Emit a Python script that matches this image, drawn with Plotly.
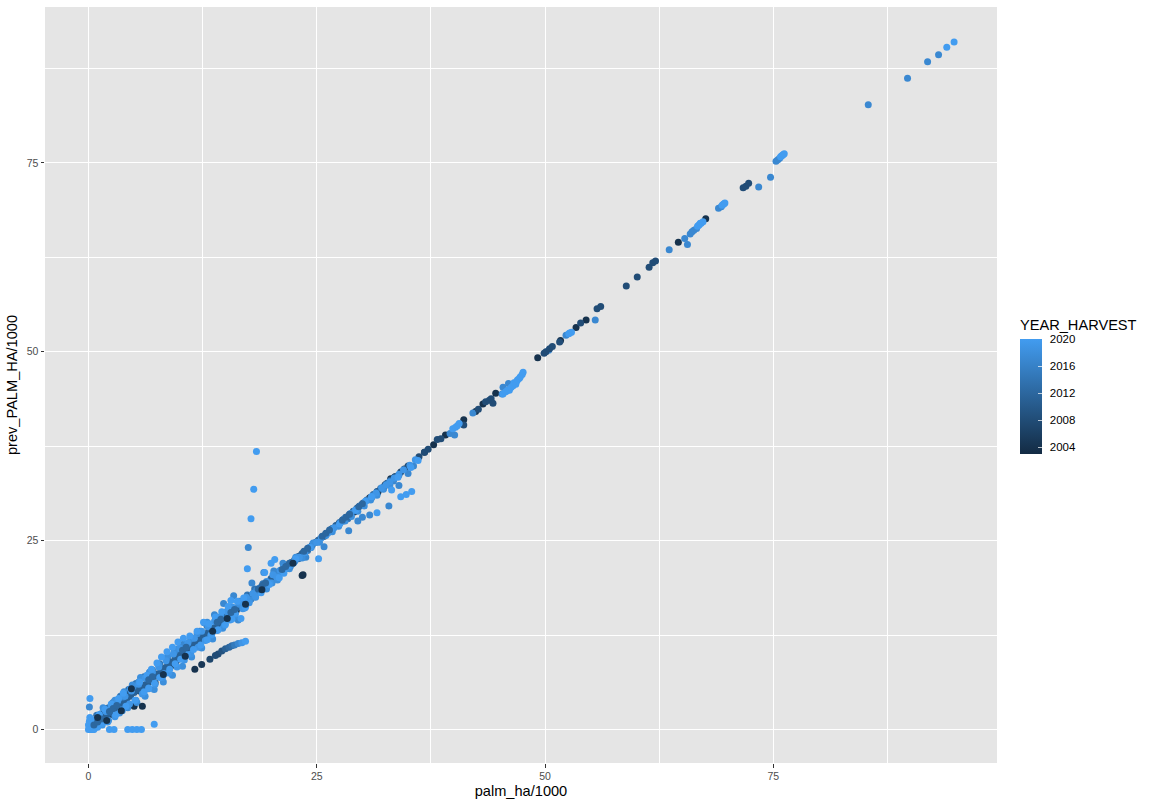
import plotly.graph_objects as go

# ---- values, grouped by harvest year and draw layer ----
core_2011_x = [0.3,0.6,1.0,1.3,1.7,2.0,2.4,2.8,3.1,3.5,3.9,4.2,4.6,5.0,5.4,5.7,6.1,6.5,6.9,7.2,7.6,8.0,8.4,8.7,9.1,9.5,9.9,10.2,10.6,11.0,11.4,11.7,12.1,12.5,12.9,13.2,13.6,14.0,14.4,14.7,15.1,15.5,15.9,16.2,16.6,17.0,17.4,17.7,18.1,18.5,18.9,19.2,19.6,20.0,20.4,20.7,21.1,21.5,21.9,22.2,22.6,23.0,23.4,23.7,24.1,24.5,24.9,25.2,25.6,26.0,26.4,26.7,27.1,27.5,27.9,28.2,28.6,29.0,29.4,29.7,30.1,30.5,30.9,31.2,31.6,32.0,32.4,32.7,33.1,33.5]
core_2011_y = [0.2,0.5,0.8,1.2,1.5,1.9,2.2,2.7,2.9,3.4,3.7,4.1,4.4,4.9,5.2,5.6,5.9,6.4,6.7,7.1,7.4,7.9,8.2,8.6,8.9,9.4,9.7,10.1,10.4,10.9,11.2,11.6,11.9,12.4,12.7,13.1,13.4,13.9,14.2,14.6,14.9,15.4,15.7,16.1,16.5,16.9,17.3,17.6,18.0,18.4,18.8,19.1,19.5,19.9,20.3,20.6,21.0,21.4,21.8,22.1,22.5,22.9,23.3,23.6,24.0,24.4,24.8,25.1,25.5,25.9,26.2,26.6,27.0,27.4,27.8,28.1,28.5,28.9,29.3,29.6,30.0,30.4,30.7,31.1,31.5,31.9,32.2,32.6,33.0,33.4]

wide_2014_x = [0.2,0.5,0.9,1.4,1.8,2.2,2.7,3.0,3.5,3.9,4.4,4.8,5.2,5.7,6.1,6.5,7.0,7.4,7.8,8.3,8.7,9.1,9.6,10.0,10.4,10.9,11.3,11.7,12.2,12.6,13.0,13.5,13.9,14.3,14.8,15.2,15.6,16.1,16.5,16.9,17.4,17.8,18.2,18.7,19.1,19.5,20.0,20.4,20.8,21.3,21.7,22.1,22.6,23.0,23.5,24.0,26.6,27.3,27.9,28.4,29.4,30.1,31.0,31.7,32.3,32.9,33.4,34.0]
wide_2014_y = [0.9,1.2,1.9,2.1,2.8,2.9,3.6,3.2,4.4,4.2,5.3,4.9,6.1,5.6,7.0,6.3,7.9,7.2,8.7,8.0,9.6,8.9,10.5,9.7,11.3,10.6,12.1,11.4,13.0,12.2,13.7,13.1,14.6,14.0,15.5,14.8,16.2,15.7,17.0,16.4,17.8,17.3,18.6,18.2,19.3,19.0,20.0,20.0,20.9,20.8,21.7,21.6,22.4,22.6,23.2,23.7,26.5,27.1,27.6,27.9,29.0,29.7,30.7,31.4,31.9,32.6,33.1,33.7]

dark_2004_x = [0.7,1.4,1.8,2.6,3.1,3.9,4.4,5.0,5.6,6.3,6.8,7.3,7.9,8.4,9.0,9.6,10.1,10.8,11.5,12.2,12.9,13.6,14.3,15.0,15.7,16.2,16.8,17.4,18.0,18.7,19.4,20.1,20.9,21.6,22.5,23.2,23.4,23.5,24.3,25.1,25.8,26.7,27.5,28.3,29.1,30.0,30.8,31.7,32.5,33.1,34.6,36.8,37.8,39.1,41.1,42.4,43.2,44.6,49.2,51.7,53.4,54.5,64.6,67.6]
dark_2004_y = [0.5,1.2,2.3,2.0,2.6,3.2,4.7,3.1,5.1,5.6,6.4,6.2,7.4,7.7,8.4,9.0,9.4,10.2,11.0,11.6,12.4,13.1,13.8,14.7,15.1,15.8,16.2,17.0,17.6,18.3,19.0,19.8,20.6,21.4,22.2,23.0,20.4,20.5,24.1,24.9,25.6,26.5,27.3,28.1,28.8,29.8,30.7,31.5,32.4,33.2,34.5,36.7,37.7,39.0,41.0,42.1,43.1,44.5,49.2,51.5,53.2,54.2,64.5,67.6]

mid_2008_x = [33.6,34.2,35.0,36.2,36.8,37.2,38.2,38.6,41.1,42.7,43.5,43.9,44.1,44.3,49.9,50.1,50.5,50.8,51.6,53.9,55.7,56.1,58.9,60.1,61.4,61.8,62.1,71.7,72.0,72.3]
mid_2008_y = [33.5,34.1,34.9,36.1,36.7,37.1,38.4,38.5,40.3,42.4,43.4,43.6,43.8,43.2,49.8,50.0,50.4,50.7,51.3,53.8,55.7,56.0,58.7,59.9,61.2,61.8,62.0,71.7,71.9,72.3]

spread_2017_x = [0.1,1.2,2.4,3.2,3.8,4.9,5.5,6.7,7.7,8.6,9.4,10.5,11.2,12.7,13.8,14.8,15.9,16.4,17.5,17.9,18.4,19.2,20.3,20.7,21.3,22.6,23.8,25.8,28.5,29.5,30.0,30.8,32.9,33.4,34.0,35.0,35.6,39.6,40.1,42.1,45.3,45.4,46.0,50.4,52.3,55.5,63.6,65.3,65.6,65.9,66.1,66.3,66.6,69.0,69.3,73.4,74.7,75.3,75.5,75.7,85.4,89.7,91.9,93.1]
spread_2017_y = [3.0,1.5,2.7,3.9,4.3,5.7,6.3,7.6,8.6,9.5,10.3,11.2,12.0,14.1,15.2,16.7,17.7,14.5,24.1,19.4,18.4,20.8,21.0,20.6,22.0,22.3,22.8,24.2,26.3,27.6,28.1,28.4,29.6,32.9,32.3,33.9,34.9,39.2,39.0,41.9,44.4,45.3,45.8,50.2,52.2,54.2,63.5,65.0,64.2,65.6,65.9,66.1,66.3,69.0,69.2,71.8,73.1,75.2,75.4,75.6,82.7,86.2,88.4,89.3]

edge_2018_x = [1.6,2.2,2.9,3.4,3.9,4.3,4.8,5.3,5.7,6.2,6.7,7.2,7.7,8.2,8.7,9.2,9.8,10.3,10.8,11.3,11.9,12.4,13.0,13.6,14.1,14.7,15.3,15.9,16.5,17.1,17.7,18.3,18.9,19.5,20.1,20.7,21.4,22.0,22.7,23.4,24.6,25.3,26.0,26.7,27.4,28.1,28.8,29.5,30.2,30.9,31.6,32.3,33.0]
edge_2018_y = [2.9,1.2,3.9,2.2,5.0,2.9,5.9,3.6,6.9,4.4,7.6,5.3,8.5,6.3,9.8,7.2,10.7,8.4,11.3,9.6,12.7,10.8,14.2,12.0,14.8,13.4,15.3,14.9,16.6,16.1,17.2,17.5,18.5,18.6,19.4,19.8,21.6,21.3,22.8,22.7,24.7,24.8,25.7,26.2,26.9,27.6,28.2,28.9,29.6,30.4,31.0,31.8,32.3]

fill_2020_x = [0.4,0.8,1.1,1.5,1.9,2.1,2.5,2.9,3.2,3.7,4.0,4.5,4.7,5.2,5.5,5.9,6.2,6.6,7.0,7.3,7.7,8.1,8.5,8.8,9.3,9.7,10.0,10.5,10.9,11.2,11.6,12.0,12.4,12.8,13.1,13.4,13.8,14.1,14.5,14.9,15.2,15.5,15.8,16.1,16.5,16.9,17.3,17.6,18.0,18.3,18.7,19.1,19.5,19.9,20.2,20.6,21.0,21.5,22.0,22.5,23.1,23.7,24.4,25.0,25.5,26.2,26.9,27.6,28.1,28.7,29.2,29.8,30.4,31.1,31.5,32.1,32.6,33.0,33.5,34.0,34.5,35.2,35.8]
fill_2020_y = [1.2,0.3,1.8,0.6,2.4,1.0,3.0,1.7,3.8,2.5,4.4,3.4,5.1,3.9,6.0,4.7,6.8,5.4,7.6,6.0,8.3,6.9,9.1,7.5,10.0,8.3,10.8,9.2,11.5,10.0,12.1,10.9,13.0,11.8,13.6,12.5,14.3,13.1,15.0,13.8,15.7,14.5,16.2,15.3,16.9,16.0,17.5,16.8,18.0,17.6,18.7,18.6,19.6,19.4,20.5,20.2,21.1,21.2,21.7,22.1,22.8,23.4,24.1,24.8,25.4,26.0,26.7,27.4,28.0,28.6,29.0,29.6,30.3,30.9,31.3,32.0,32.4,32.8,33.3,33.8,34.4,35.0,35.7]

light_2020_x = [0.0,0.0,0.1,0.1,0.15,0.16,0.2,0.3,0.4,0.5,0.6,0.8,1.0,1.2,1.5,1.8,2.0,2.3,2.5,2.8,3.0,3.3,3.6,3.8,4.1,4.3,4.6,4.8,5.1,5.3,5.6,5.8,6.1,6.4,6.6,6.9,7.2,7.2,7.5,7.8,8.0,8.3,8.6,8.9,9.2,9.5,9.8,10.1,10.4,10.8,11.1,11.5,11.9,12.3,12.6,13.0,13.2,13.5,13.9,14.2,14.6,15.0,15.3,15.6,15.7,16.0,16.3,16.7,17.0,17.2,17.4,17.8,18.1,18.4,18.9,19.3,19.8,20.0,20.4,20.9,21.4,21.9,22.3,22.7,24.2,25.2,26.5,27.5,29.3,30.3,31.0,31.6,33.2,33.9,34.2,34.8,35.4,35.3,36.1,39.9,40.2,40.4,40.6,45.4,45.7,45.9,46.1,46.3,46.5,46.6,46.8,46.9,47.0,47.2,47.3,47.5,47.6,52.6,52.7,52.9,66.7,66.8,66.9,67.0,67.1,67.3,69.4,69.5,69.6,69.7,75.8,75.9,76.0,76.1,76.2,94.0,94.8]
light_2020_y = [0.0,0.6,1.1,0.3,1.6,4.1,0.0,0.0,0.8,0.0,0.0,1.3,0.3,2.0,0.8,2.7,1.2,0.0,3.4,0.0,2.0,4.1,2.6,4.8,3.1,0.0,5.4,0.0,3.9,0.0,6.3,0.0,5.0,7.2,5.5,8.0,0.7,6.2,8.8,6.9,9.6,7.4,10.3,8.0,10.9,8.7,11.6,9.3,12.1,9.9,12.4,10.6,13.0,11.2,14.2,11.9,14.0,12.6,14.9,13.2,15.6,13.9,16.3,17.1,14.6,15.4,17.0,14.7,17.4,16.2,21.3,27.9,31.8,36.8,18.1,20.8,19.2,22.0,22.5,20.1,20.7,21.7,21.9,22.6,24.1,22.6,26.4,27.2,29.1,30.2,30.8,28.7,31.7,33.4,30.8,31.1,31.5,34.7,35.6,39.8,40.0,40.2,40.5,44.4,44.7,44.9,44.9,45.3,45.5,45.9,45.7,46.1,46.3,46.5,46.7,47.0,47.3,52.4,52.5,52.6,66.6,66.7,66.8,67.0,67.0,67.2,69.4,69.5,69.6,69.7,75.8,75.9,76.0,76.1,76.2,90.3,91.0]

streak_2012_x = [0.6,1.0,1.4,2.3,2.7,3.1,6.6,7.0,10.3,10.7,14.1,14.5,15.6,16.0,18.6,19.0,19.4,21.2,21.6,22.0,23.6,24.0,25.6,26.0,26.4,27.8,28.2,28.6,29.6,30.0]
streak_2012_y = [0.6,1.0,1.4,2.4,2.8,3.2,6.6,7.0,10.5,10.9,14.2,14.6,15.5,15.9,18.6,19.0,19.4,21.2,21.6,22.0,23.6,24.0,25.6,26.0,26.4,27.7,28.1,28.5,29.5,29.9]

accent_2004_x = [1.0,2.0,3.6,4.7,5.9,8.2,10.6,13.6,15.2,17.2,19.0,22.4]
accent_2004_y = [1.6,1.2,2.5,5.4,3.1,7.3,9.7,13.0,14.7,16.6,18.5,22.0]

tail_x = [11.65,12.4,13.3,13.9,14.2,14.6,15.0,15.4,15.7,16.0,16.4,16.8,17.2]
tail_y = [8.0,8.6,9.3,9.8,10.0,10.4,10.7,10.9,11.1,11.2,11.4,11.5,11.7]
tail_year = [2004,2005,2007,2008,2008,2009,2011,2012,2013,2015,2017,2019,2020]

x_ticks = [0, 25, 50, 75]
y_ticks = [0, 25, 50, 75]
minor_ticks = [12.5, 37.5, 62.5, 87.5]
bar_ticks = [2004, 2008, 2012, 2016, 2020]

xs = wide_2014_x + dark_2004_x + core_2011_x + spread_2017_x + mid_2008_x + edge_2018_x + fill_2020_x + light_2020_x + streak_2012_x + accent_2004_x + tail_x
ys = wide_2014_y + dark_2004_y + core_2011_y + spread_2017_y + mid_2008_y + edge_2018_y + fill_2020_y + light_2020_y + streak_2012_y + accent_2004_y + tail_y
years = ([2014]*len(wide_2014_x) + [2004]*len(dark_2004_x) + [2011]*len(core_2011_x)
         + [2017]*len(spread_2017_x) + [2008]*len(mid_2008_x) + [2018]*len(edge_2018_x)
         + [2019]*len(fill_2020_x) + [2020]*len(light_2020_x) + [2012]*len(streak_2012_x)
         + [2004]*len(accent_2004_x) + tail_year)

bar_place = dict(
    thickness=22, thicknessmode="pixels", len=115, lenmode="pixels",
    x=1020/1152, xref="container", xanchor="left",
    y=1-(453+31)/806, yref="container", yanchor="bottom",
    outlinewidth=0, borderwidth=0, xpad=0, ypad=0,
)
scale = [[0, "#132B43"], [1, "#429CF0"]]

fig = go.Figure(go.Scatter(
    x=xs, y=ys, mode="markers", hoverinfo="skip",
    marker=dict(
        size=7, color=years, cmin=2003, cmax=2020, colorscale=scale,
        line=dict(width=0),
        colorbar=dict(
            tickvals=bar_ticks, ticks="outside", ticklen=6, tickcolor="rgba(0,0,0,0)", tickwidth=1,
            tickfont=dict(size=11.5, color="#000000", family="Liberation Sans"),
            **bar_place,
        ),
    ),
))
# second, invisible trace only adds the white inner tick marks on the bar
fig.add_trace(go.Scatter(
    x=xs[:1], y=ys[:1], mode="markers", hoverinfo="skip", opacity=0,
    marker=dict(
        size=7, color=years[:1], cmin=2003, cmax=2020, colorscale=scale,
        colorbar=dict(
            tickvals=bar_ticks, ticks="inside", ticklen=4, tickcolor="rgba(255,255,255,0.7)", tickwidth=1,
            showticklabels=False, **bar_place,
        ),
    ),
))

axis = dict(
    showgrid=True, gridcolor="#FFFFFF", gridwidth=1.4, zeroline=False,
    ticks="outside", ticklen=3.5, tickwidth=1, tickcolor="#333333",
    tickfont=dict(size=10.5, color="#4D4D4D", family="Liberation Sans"),
    minor=dict(tickvals=minor_ticks, showgrid=True, gridcolor="#FFFFFF", gridwidth=0.7, ticks=""),
    showline=False,
)
fig.update_xaxes(axis, tickvals=x_ticks, range=[-4.76, 99.5],
                 title=dict(text="palm_ha/1000", font=dict(size=14.6, color="#000000", family="Liberation Sans"), standoff=4))
fig.update_yaxes(axis, tickvals=y_ticks, range=[-4.42, 95.63],
                 title=dict(text="prev_PALM_HA/1000", font=dict(size=14.6, color="#000000", family="Liberation Sans"), standoff=5))
fig.add_annotation(text="YEAR_HARVEST", xref="paper", yref="paper", x=(1017.5-45)/952, y=1-(325-7)/756.5,
                   xanchor="left", yanchor="middle", showarrow=False,
                   font=dict(size=14.6, color="#000000", family="Liberation Sans"))
fig.update_layout(
    width=1152, height=806, autosize=False,
    margin=dict(l=44.5, r=155, t=7, b=42.7, pad=0),
    plot_bgcolor="#E5E5E5", paper_bgcolor="#FFFFFF",
    font=dict(family="Liberation Sans"), showlegend=False,
)
fig.write_html("out.html", config=dict(displayModeBar=False),
               post_script="document.body.style.margin='0';document.documentElement.style.overflow='hidden';")
